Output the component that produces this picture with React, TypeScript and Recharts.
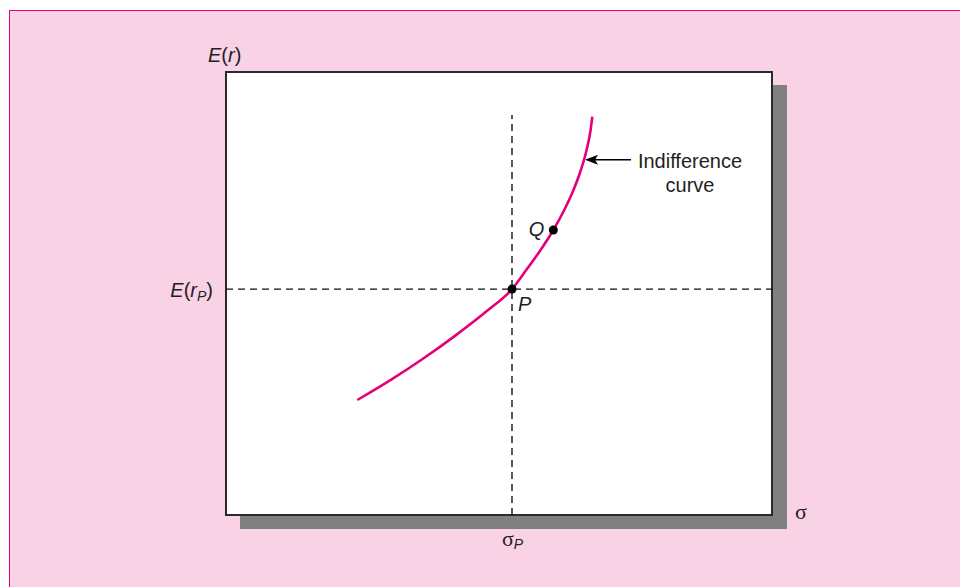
import React from 'react';
import { ComposedChart, Line, Scatter, XAxis, YAxis, ReferenceLine, ReferenceDot } from 'recharts';

// Indifference curve (sigma on x, E(r) on y, both on a 0..100 scale)
const sigmaValues = [24.05, 30.04, 36.0, 42.0, 48.0, 52.38, 54.98, 57.62, 59.95, 61.95, 63.64, 65.0, 66.04, 66.78, 67.09];
const returnValues = [25.96, 30.39, 35.22, 40.5, 46.26, 50.99, 55.3, 59.82, 64.33, 68.85, 73.36, 77.88, 82.39, 86.91, 89.91];

// Marked portfolios
const pointNames = ['P', 'Q'];
const pointSigma = [52.38, 59.95];
const pointReturn = [50.99, 64.33];

// Axis / annotation texts
const xAxisTitle = 'σ';
const curveLabel = ['Indifference', 'curve'];

const DOMAIN: [number, number] = [0, 100];
const dashTop = 90.3;
const dashRight = 101.1;
const arrowAnchor = { sigma: 65.57, ret: 80.2 };

const curveData = sigmaValues.map((s, i) => ({ sigma: s, ret: returnValues[i] }));
const pointData = pointNames.map((n, i) => ({ name: n, sigma: pointSigma[i], ret: pointReturn[i] }));
const P = pointData[0];
const Q = pointData[1];

const SANS = '"Liberation Sans", Arial, Helvetica, sans-serif';
const SERIF = '"Liberation Serif", "Times New Roman", serif';
const INK = '#231f20';
const FS = 20;

const center = (vb: any) => ({ cx: vb.x + vb.width / 2, cy: vb.y + vb.height / 2 });

export default function App() {
  return (
    <div style={{ position: 'absolute', left: 0, top: 0, width: 960, height: 587, overflow: 'hidden', background: '#ffffff' }}>
      <div
        style={{
          position: 'absolute',
          left: 9,
          top: 10,
          width: 1000,
          height: 700,
          background: '#f9d3e5',
          border: '1px solid #e4007c',
          boxSizing: 'border-box',
        }}
      />
      <div style={{ position: 'absolute', left: 240, top: 85, width: 547, height: 444, background: '#808080' }} />
      <div
        style={{
          position: 'absolute',
          left: 225,
          top: 71,
          width: 548,
          height: 445,
          background: '#ffffff',
          border: '2px solid #2a2a2a',
          boxSizing: 'border-box',
        }}
      />
      <div style={{ position: 'absolute', left: 0, top: 0 }}>
        <ComposedChart
          width={960}
          height={587}
          margin={{ top: 72, right: 188, bottom: 72, left: 226 }}
          style={{ overflow: 'visible' }}
        >
          <XAxis type="number" dataKey="sigma" domain={DOMAIN} hide allowDataOverflow />
          <YAxis type="number" dataKey="ret" domain={DOMAIN} hide allowDataOverflow />
          <ReferenceLine
            segment={[{ x: P.sigma, y: 0 }, { x: P.sigma, y: dashTop }]}
            stroke="#111"
            strokeWidth={1.4}
            strokeDasharray="7 5"
            ifOverflow="visible"
          />
          <ReferenceLine
            segment={[{ x: 0, y: P.ret }, { x: dashRight, y: P.ret }]}
            stroke="#111"
            strokeWidth={1.4}
            strokeDasharray="7 5"
            ifOverflow="visible"
          />
          <Line
            data={curveData}
            dataKey="ret"
            type="monotone"
            stroke="#e4007c"
            strokeWidth={2.6}
            dot={false}
            activeDot={false}
            isAnimationActive={false}
          />
          <Scatter data={pointData} dataKey="ret" fill="#000" isAnimationActive={false} />

          {/* E(r) axis title */}
          <ReferenceDot
            x={0}
            y={100}
            r={1}
            fill="none"
            stroke="none"
            ifOverflow="visible"
            label={(props: any) => {
              const { cx, cy } = center(props.viewBox);
              return (
                <text x={cx - 18} y={cy - 10} fontFamily={SANS} fontSize={FS} fill={INK}>
                  <tspan fontStyle="italic">E</tspan>
                  <tspan>(</tspan>
                  <tspan fontStyle="italic">r</tspan>
                  <tspan>)</tspan>
                </text>
              );
            }}
          />
          {/* sigma axis title */}
          <ReferenceDot
            x={100}
            y={0}
            r={1}
            fill="none"
            stroke="none"
            ifOverflow="visible"
            label={(props: any) => {
              const { cx, cy } = center(props.viewBox);
              return (
                <text x={cx + 23} y={cy + 4} fontFamily={SERIF} fontSize={FS + 2} fill={INK}>
                  {xAxisTitle}
                </text>
              );
            }}
          />
          {/* E(r_P) */}
          <ReferenceDot
            x={0}
            y={P.ret}
            r={1}
            fill="none"
            stroke="none"
            ifOverflow="visible"
            label={(props: any) => {
              const { cx, cy } = center(props.viewBox);
              return (
                <text x={cx - 13} y={cy + 8} textAnchor="end" fontFamily={SANS} fontSize={FS} fill={INK}>
                  <tspan fontStyle="italic">E</tspan>
                  <tspan>(</tspan>
                  <tspan fontStyle="italic">r</tspan>
                  <tspan fontStyle="italic" fontSize={14} dy={4}>P</tspan>
                  <tspan dy={-4}>)</tspan>
                </text>
              );
            }}
          />
          {/* sigma_P */}
          <ReferenceDot
            x={P.sigma}
            y={0}
            r={1}
            fill="none"
            stroke="none"
            ifOverflow="visible"
            label={(props: any) => {
              const { cx, cy } = center(props.viewBox);
              return (
                <text x={cx - 10} y={cy + 31} fill={INK}>
                  <tspan fontFamily={SERIF} fontSize={FS + 2}>σ</tspan>
                  <tspan fontFamily={SANS} fontStyle="italic" fontSize={14} dy={3}>P</tspan>
                </text>
              );
            }}
          />
          {/* P label */}
          <ReferenceDot
            x={P.sigma}
            y={P.ret}
            r={1}
            fill="none"
            stroke="none"
            ifOverflow="visible"
            label={(props: any) => {
              const { cx, cy } = center(props.viewBox);
              return (
                <text x={cx + 6} y={cy + 22} fontFamily={SANS} fontStyle="italic" fontSize={FS} fill={INK}>
                  {P.name}
                </text>
              );
            }}
          />
          {/* Q label */}
          <ReferenceDot
            x={Q.sigma}
            y={Q.ret}
            r={1}
            fill="none"
            stroke="none"
            ifOverflow="visible"
            label={(props: any) => {
              const { cx, cy } = center(props.viewBox);
              return (
                <text x={cx - 9} y={cy + 6} textAnchor="end" fontFamily={SANS} fontStyle="italic" fontSize={FS} fill={INK}>
                  {Q.name}
                </text>
              );
            }}
          />
          {/* Indifference curve annotation */}
          <ReferenceDot
            x={arrowAnchor.sigma}
            y={arrowAnchor.ret}
            r={1}
            fill="none"
            stroke="none"
            ifOverflow="visible"
            label={(props: any) => {
              const { cx, cy } = center(props.viewBox);
              const tip = cx + 1;
              return (
                <g>
                  <line x1={tip + 8} y1={cy} x2={tip + 46} y2={cy} stroke="#000" strokeWidth={1.4} />
                  <polygon
                    points={`${tip},${cy} ${tip + 13},${cy - 5} ${tip + 10},${cy} ${tip + 13},${cy + 5}`}
                    fill="#000"
                  />
                  <text x={tip + 105} y={cy + 8} textAnchor="middle" fontFamily={SANS} fontSize={FS} fill={INK}>
                    {curveLabel[0]}
                  </text>
                  <text x={tip + 105} y={cy + 32} textAnchor="middle" fontFamily={SANS} fontSize={FS} fill={INK}>
                    {curveLabel[1]}
                  </text>
                </g>
              );
            }}
          />
        </ComposedChart>
      </div>
    </div>
  );
}
